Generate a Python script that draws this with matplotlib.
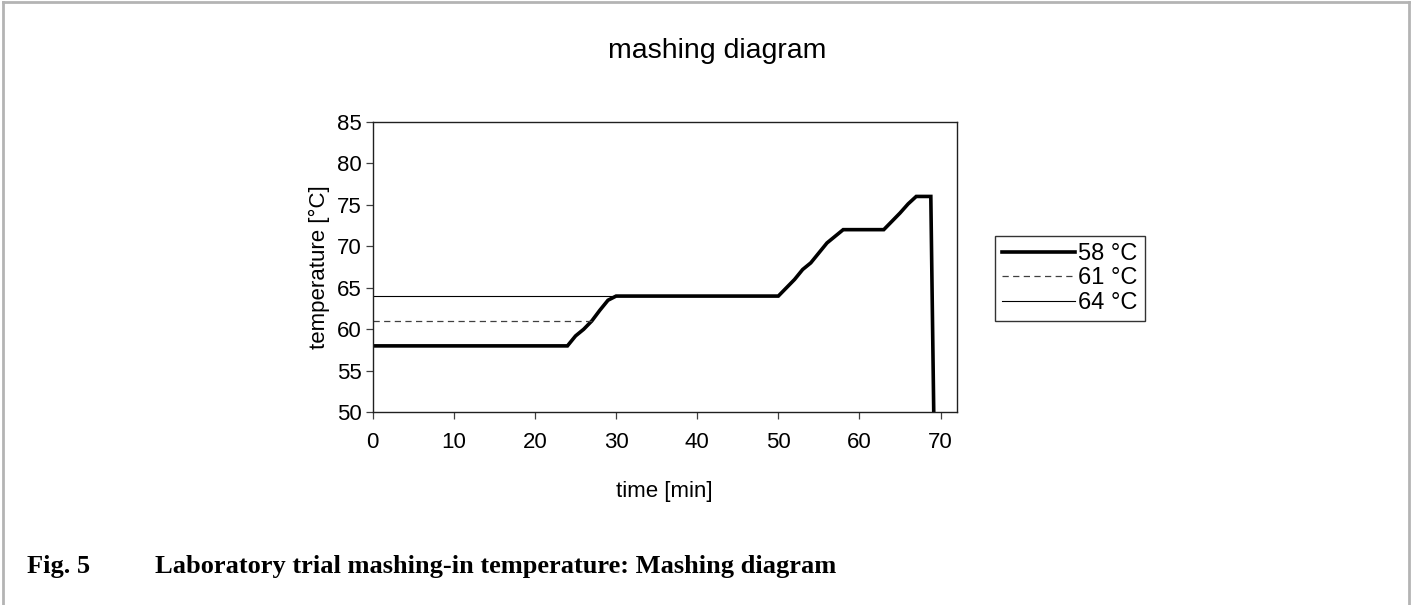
import matplotlib.pyplot as plt
from matplotlib.lines import Line2D

plt.rcParams['font.family'] = ['Liberation Sans', 'DejaVu Sans']

# mashing curve (58 °C mash-in)
time_58 = [0, 24, 25, 26, 27, 28, 29, 30, 50, 51, 52, 53, 54, 55, 56, 57, 58,
           63, 64, 65, 66, 67, 68.8, 69.3]
temp_58 = [58, 58, 59.2, 60, 61, 62.3, 63.5, 64, 64, 65, 66, 67.2, 68, 69.2,
           70.4, 71.2, 72, 72, 73, 74, 75.1, 76, 76, 40]

# mash-in at 61 °C and 64 °C (join the main curve afterwards)
time_61 = [0, 27]
temp_61 = [61, 61]
time_64 = [0, 30]
temp_64 = [64, 64]

labels = ['58 °C', '61 °C', '64 °C']
x_ticks = [0, 10, 20, 30, 40, 50, 60, 70]
y_ticks = [50, 55, 60, 65, 70, 75, 80, 85]

fig = plt.figure(figsize=(14.12, 6.05), dpi=100)
ax = fig.add_axes([0.264, 0.3185, 0.4136, 0.4803])

ax.plot(time_58, temp_58, color='black', lw=2.6, label=labels[0],
        solid_joinstyle='miter')
ax.plot(time_61, temp_61, color='#404040', lw=0.9, ls=(0, (5, 3.5)), label=labels[1])
ax.plot(time_64, temp_64, color='black', lw=0.8, label=labels[2])

ax.set_xlim(0, 72)
ax.set_ylim(50, 85)
ax.set_xticks(x_ticks)
ax.set_yticks(y_ticks)
ax.tick_params(direction='out', length=5, width=0.9, labelsize=16,
               color='#404040')
ax.tick_params(axis='x', pad=9)
ax.tick_params(axis='y', pad=3)
for s in ax.spines.values():
    s.set_linewidth(1.0)
    s.set_color('#202020')

ax.set_xlabel('time [min]', fontsize=16, labelpad=20)
ax.set_ylabel('temperature [°C]', fontsize=16, labelpad=5)
fig.text(0.508, 0.915, 'mashing diagram', ha='center', va='center', fontsize=20.5)

leg = ax.legend(loc='center left', bbox_to_anchor=(0.7047, 0.5397),
                bbox_transform=fig.transFigure, fontsize=17, frameon=True,
                fancybox=False, edgecolor='black', handlelength=3.1,
                handletextpad=0.12, labelspacing=0.1, borderpad=0.3,
                borderaxespad=0)
leg.get_frame().set_linewidth(1.0)

fig.text(0.019, 0.063, 'Fig. 5', family='Liberation Serif', weight='bold',
         fontsize=19, va='center')
fig.text(0.11, 0.063, 'Laboratory trial mashing-in temperature: Mashing diagram',
         family='Liberation Serif', weight='bold', fontsize=19, va='center')

# grey page frame
fc = '#b4b4b4'
fig.add_artist(Line2D([0.0018, 0.0018], [0, 0.996], color=fc, lw=2))
fig.add_artist(Line2D([0.0018, 0.998], [0.996, 0.996], color=fc, lw=2))
fig.add_artist(Line2D([0.998, 0.998], [0, 0.996], color=fc, lw=2))

fig.savefig('out.png', dpi=100)
